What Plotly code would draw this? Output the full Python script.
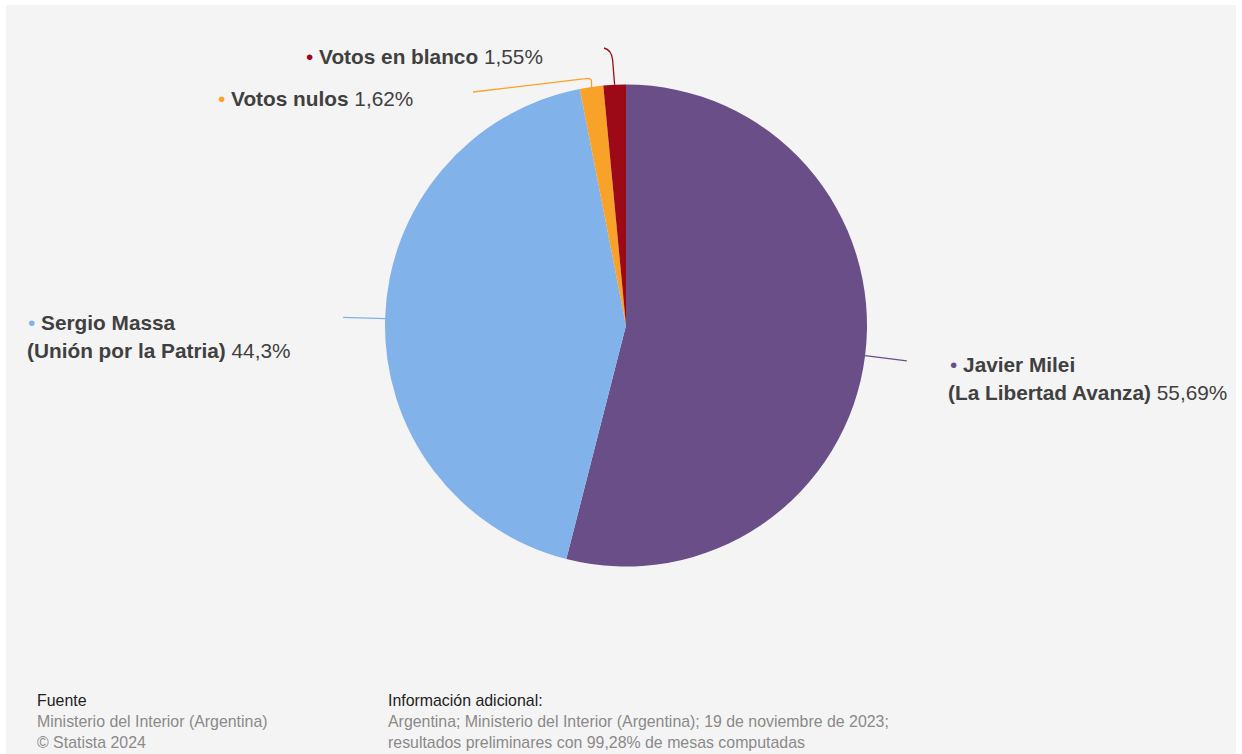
import math
import plotly.graph_objects as go

# ---- data ----
candidates = ["Javier Milei", "Sergio Massa", "Votos nulos", "Votos en blanco"]
parties = ["(La Libertad Avanza)", "(Unión por la Patria)", "", ""]
values = [55.69, 44.3, 1.62, 1.55]
value_labels = ["55,69%", "44,3%", "1,62%", "1,55%"]
colors = ["#694e87", "#82b2ea", "#f9a22a", "#9b0a16"]

W, H = 1242, 754
CX, CY, R = 626, 325.5, 241          # pie centre / radius in pixels
BG = "#f4f4f4"
TXT = "#404040"
FONT = "Liberation Sans, Arial, sans-serif"


def px(x):
    return x / W


def py(y):
    return 1 - y / H


fig = go.Figure(go.Pie(
    labels=candidates,
    values=values,
    marker=dict(colors=colors, line=dict(width=0)),
    sort=False,
    direction="clockwise",
    rotation=0,
    textinfo="none",
    hoverinfo="label+percent",
    showlegend=False,
    domain=dict(x=[px(CX - R), px(CX + R)], y=[py(CY + R), py(CY - R)]),
))

# slice mid angles (clockwise from 12 o'clock), derived from the values
total = sum(values)
mids = []
acc = 0
for v in values:
    mids.append((acc + v / 2) / total * 2 * math.pi)
    acc += v


def edge(i, r=R):
    a = mids[i]
    return CX + r * math.sin(a), CY - r * math.cos(a)


def pp(x, y):
    return f"{px(x):.5f},{py(y):.5f}"


shapes = [dict(type="rect", xref="paper", yref="paper", x0=px(6), x1=px(1236),
               y0=0, y1=py(5), fillcolor=BG, line=dict(width=0), layer="below")]

# leader lines
for i in (0, 1):
    x0, y0 = edge(i)
    x1, y1 = edge(i, R + 42)
    shapes.append(dict(type="line", xref="paper", yref="paper",
                       x0=px(x0), y0=py(y0), x1=px(x1), y1=py(y1),
                       line=dict(color=colors[i], width=1.3)))
# nulos: elbow
x0, y0 = edge(2)
path = (f"M{pp(x0, y0)} L{pp(x0, 81)} Q{pp(x0, 78)} {pp(x0 - 6, 78.6)} "
        f"L{pp(473, 92)}")
shapes.append(dict(type="path", xref="paper", yref="paper", path=path,
                   line=dict(color=colors[2], width=1.3)))
# blanco: curve up
x0, y0 = edge(3)
path = (f"M{pp(x0, y0)} L{pp(x0 - 2, 60)} Q{pp(x0 - 3, 50)} {pp(604, 48)}")
shapes.append(dict(type="path", xref="paper", yref="paper", path=path,
                   line=dict(color=colors[3], width=1.3)))

annotations = []
LS = 20.8


def label(x, y, text, size=LS, color=TXT):
    annotations.append(dict(xref="paper", yref="paper", x=px(x), y=py(y),
                            xanchor="left", yanchor="middle", showarrow=False,
                            text=text, align="left",
                            font=dict(family=FONT, size=size, color=color)))


def bullet(i):
    return f"<span style='color:{colors[i]}'>•</span> "


# Milei
label(948, 364, bullet(0) + f"<b>{candidates[0]}</b>")
label(946, 392, f"<b>{parties[0]}</b> {value_labels[0]}")
# Massa
label(26, 323, bullet(1) + f"<b>{candidates[1]}</b>")
label(25, 351, f"<b>{parties[1]}</b> {value_labels[1]}")
# Nulos
label(216, 98, bullet(2) + f"<b>{candidates[2]}</b> {value_labels[2]}")
# Blanco
label(304, 56, bullet(3) + f"<b>{candidates[3]}</b> {value_labels[3]}")

# footer
FS = 15.9
label(35, 700, "Fuente", FS, "#222222")
label(35, 721, "Ministerio del Interior (Argentina)", FS, "#8a8a8a")
label(35, 742, "© Statista 2024", FS, "#8a8a8a")
label(386, 700, "Información adicional:", FS, "#222222")
label(386, 721, "Argentina; Ministerio del Interior (Argentina); 19 de noviembre de 2023;", FS, "#8a8a8a")
label(386, 742, "resultados preliminares con 99,28% de mesas computadas", FS, "#8a8a8a")

fig.update_layout(
    width=W, height=H,
    margin=dict(l=0, r=0, t=0, b=0),
    paper_bgcolor="white",
    plot_bgcolor="white",
    shapes=shapes,
    annotations=annotations,
    font=dict(family=FONT),
)

fig.write_html("out.html",
               config=dict(displayModeBar=False),
               post_script="document.body.style.margin='0';document.body.style.padding='0';")
